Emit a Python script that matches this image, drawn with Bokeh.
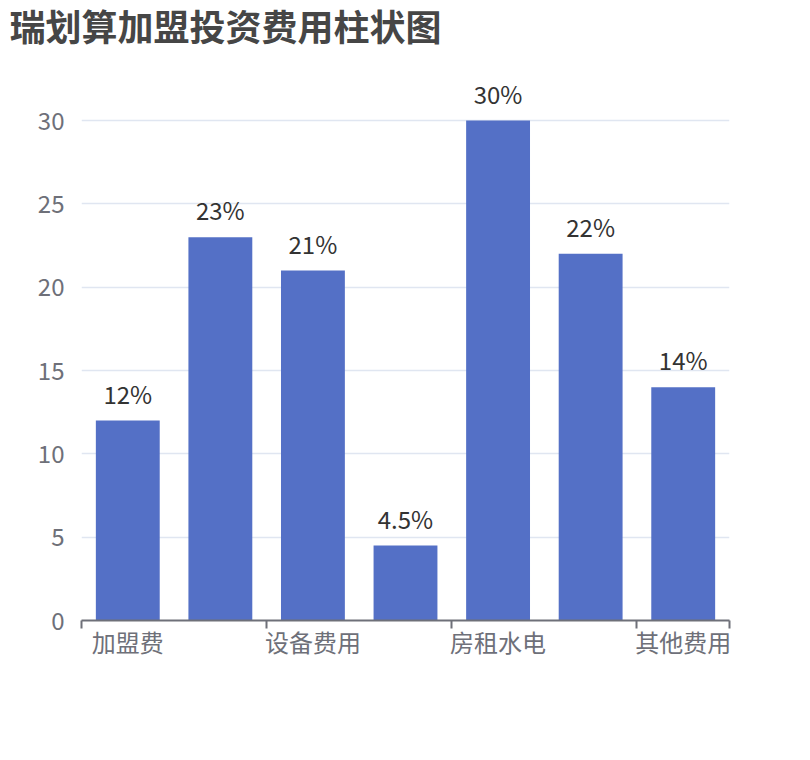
from bokeh.plotting import figure
from bokeh.models import ColumnDataSource, FixedTicker, Range1d, LabelSet
from bokeh.core.properties import value
from bokeh.embed import file_html
from bokeh.resources import INLINE

# ---- data ----
title_text = "瑞划算加盟投资费用柱状图"
categories = ["加盟费", "装修费用", "设备费用", "首批原料", "房租水电", "人员工资", "其他费用"]
values = [12, 23, 21, 4.5, 30, 22, 14]
y_ticks = [0, 5, 10, 15, 20, 25, 30]
shown_label_idx = [0, 2, 4, 6]   # x labels that are displayed (others hidden for space)

FONT = "Noto Sans CJK SC"
W, H = 794, 744
FL, FT, FR, FB = 81, 50, 729, 620   # frame edges in page pixels (top extended for value labels)
Y_MAX = max(y_ticks)
px_per_unit = (FB - 120) / Y_MAX   # axis top (30) sits at y=120
y_end = Y_MAX + (120 - FT) / px_per_unit

xs = [i + 0.5 for i in range(len(categories))]
src = ColumnDataSource(dict(
    x=xs,
    y=values,
    label=[f"{v:g}%" for v in values],
))

p = figure(width=W, height=H, output_backend="svg", toolbar_location=None,
           x_range=Range1d(0, len(categories)), y_range=Range1d(0, y_end),
           min_border_left=FL, min_border_right=W - FR, min_border_top=FT, min_border_bottom=H - FB,
           title=title_text)
p.outline_line_color = None
p.background_fill_color = "white"
p.border_fill_color = "white"

# title
p.title.align = "left"
p.title.vertical_align = "top"
p.title.offset = 9 - FL
p.title.standoff = -4
p.title.text_font = FONT
p.title.text_font_size = "36px"
p.title.text_font_style = "bold"
p.title.text_color = "#464646"

# grid
p.xgrid.visible = False
p.ygrid.ticker = FixedTicker(ticks=y_ticks)
p.ygrid.grid_line_color = "#E0E6F1"
p.ygrid.grid_line_width = 1.5

# bars
p.vbar(x="x", top="y", width=0.69, source=src, fill_color="#5470c6", line_color=None)

# value labels
p.add_layout(LabelSet(x="x", y="y", text="label", source=src, text_align="center",
                      text_baseline="alphabetic", y_offset=17, text_font=value(FONT),
                      text_font_size="24px", text_color="#333333"))

# x axis
xa = p.xaxis[0]
xa.ticker = FixedTicker(ticks=[xs[i] for i in shown_label_idx],
                        minor_ticks=[0, 2, 4, 6, len(categories)])
xa.major_label_overrides = {xs[i]: categories[i] for i in shown_label_idx}
xa.axis_line_color = "#6E7079"
xa.axis_line_width = 2
xa.major_tick_line_color = None
xa.major_tick_out = 0
xa.major_tick_in = 0
xa.minor_tick_line_color = "#6E7079"
xa.minor_tick_line_width = 2
xa.minor_tick_out = 8
xa.minor_tick_in = 0
xa.major_label_standoff = -5
xa.major_label_text_font = FONT
xa.major_label_text_font_size = "24px"
xa.major_label_text_color = "#6E7079"

# y axis
ya = p.yaxis[0]
ya.ticker = FixedTicker(ticks=y_ticks)
ya.axis_line_color = None
ya.major_tick_line_color = None
ya.minor_tick_line_color = None
ya.major_tick_out = 0
ya.major_label_standoff = 17
ya.major_label_text_font = FONT
ya.major_label_text_font_size = "24px"
ya.major_label_text_color = "#6E7079"

open("out.html", "w").write(file_html(p, INLINE))
